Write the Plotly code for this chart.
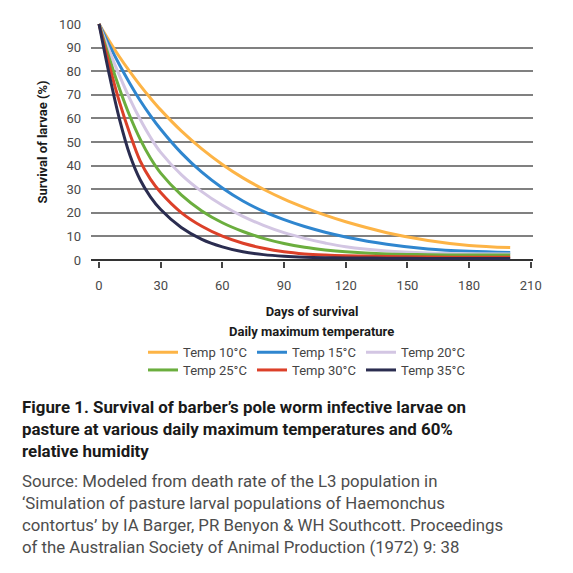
import plotly.graph_objects as go

days = [0, 5, 10, 15, 20, 25, 30, 40, 50, 60, 70, 80, 90, 100, 110, 120, 140, 160, 180, 200]

temp_10 = [100, 92.8, 86, 79.8, 74, 68.6, 63.6, 54.7, 47.1, 40.5, 34.8, 30, 25.8, 22.2, 19.0, 16.2, 11.6, 8.3, 6.2, 5.3]
temp_15 = [100, 91, 82.6, 74.8, 67.6, 61.2, 55.4, 45.4, 37.2, 30.5, 25, 20.6, 17.1, 14.2, 11.8, 9.8, 6.7, 4.7, 3.7, 3.2]
temp_20 = [100, 88.6, 78, 68.3, 59.6, 52, 45.6, 36.2, 29, 23.2, 18.5, 14.7, 11.6, 9.2, 7.2, 5.6, 3.8, 3.0, 2.7, 2.6]
temp_25 = [100, 85.5, 72.5, 61, 51.2, 43.2, 36.8, 27.6, 20.8, 15.8, 12.1, 9.2, 7.0, 5.4, 4.3, 3.5, 2.6, 2.3, 2.1, 2.1]
temp_30 = [100, 82.5, 66.8, 53.5, 42, 34.3, 28.6, 20.1, 14.3, 10.1, 7.1, 5.0, 3.5, 2.6, 2.1, 1.8, 1.5, 1.3, 1.2, 1.2]
temp_35 = [100, 78.5, 59.5, 44.5, 34, 26.8, 21.4, 13.8, 8.8, 5.6, 3.5, 2.3, 1.6, 1.2, 1.0, 0.9, 0.8, 0.7, 0.7, 0.7]

series_names = ["Temp 10°C", "Temp 15°C", "Temp 20°C", "Temp 25°C", "Temp 30°C", "Temp 35°C"]
series_values = [temp_10, temp_15, temp_20, temp_25, temp_30, temp_35]
series_colors = ["#FDB446", "#2F86CF", "#D3C6E3", "#6BAE3E", "#DC4029", "#2B2D50"]

x_ticks = [0, 30, 60, 90, 120, 150, 180, 210]
y_ticks = [0, 10, 20, 30, 40, 50, 60, 70, 80, 90, 100]

FONT = "Roboto"
OFF = 8            # page body margin
W = H = 573 - OFF
# plot area edges in window pixels
PL, PR, PT, PB = 91, 533, 17, 260.7
ML, MR, MT, MB = PL - OFF, W - (PR - OFF), PT - OFF, H - (PB - OFF)

fig = go.Figure()
for i, (name, vals, col) in enumerate(zip(series_names, series_values, series_colors)):
    fig.add_trace(go.Scatter(
        x=days, y=vals, mode="lines", name=name,
        line=dict(color=col, width=3, shape="spline", smoothing=1.0),
        legend="legend" if i < 3 else "legend2",
    ))

def py(p):
    return (PB - p) / (PB - PT)

def px_x(p):
    return (p - PL) / (PR - PL)

def cx(p):
    return (p - OFF) / W

def cy(p):
    return 1 - (p - OFF) / H

legend_common = dict(
    orientation="h", xref="container", yref="container",
    xanchor="left", yanchor="middle",
    font=dict(family=FONT, size=13, color="#444444"),
    entrywidth=64, itemwidth=30, tracegroupgap=0,
    bgcolor="rgba(0,0,0,0)", itemclick=False,
)

fig.update_layout(
    width=W, height=H,
    margin=dict(l=ML, r=MR, t=MT, b=MB),
    paper_bgcolor="white", plot_bgcolor="white",
    font=dict(family=FONT, size=13, color="#444444"),
    xaxis=dict(
        range=[-3.9, 211.1], tickvals=x_ticks, ticktext=[str(v) for v in x_ticks],
        showgrid=False, zeroline=False, showline=False,
        ticks="outside", ticklen=6, tickwidth=1.5, tickcolor="#444444",
        tickfont=dict(family=FONT, size=13, color="#4a4a4a"),
        ticklabelstandoff=6,
        title=dict(text="<b>Days of survival</b>", font=dict(family=FONT, size=13, color="#1a1a1a"), standoff=15),
    ),
    yaxis=dict(
        range=[-0.4, 100.4], tickvals=y_ticks, ticktext=[str(v) for v in y_ticks],
        showgrid=True, gridcolor="#808080", gridwidth=1.5,
        zeroline=True, zerolinecolor="#333333", zerolinewidth=2.2,
        showline=False, ticks="",
        tickfont=dict(family=FONT, size=13, color="#4a4a4a"),
        ticklabelstandoff=9,
        title=dict(text="<b>Survival of larvae (%)</b>", font=dict(family=FONT, size=13, color="#1a1a1a"), standoff=8),
    ),
    legend=dict(x=cx(143), y=cy(352.3), **legend_common),
    legend2=dict(x=cx(143), y=cy(370), **legend_common),
    annotations=[
        dict(text="<b>Daily maximum temperature</b>", xref="paper", yref="paper",
             x=px_x(311), y=py(332.7), xanchor="center", yanchor="middle", showarrow=False,
             font=dict(family=FONT, size=13, color="#1a1a1a")),
        dict(text="<b>Figure 1. Survival of barber’s pole worm infective larvae on<br>"
                  "pasture at various daily maximum temperatures and 60%<br>"
                  "relative humidity</b>",
             xref="paper", yref="paper", x=px_x(20), y=py(433), xanchor="left", yanchor="middle",
             align="left", showarrow=False, font=dict(family=FONT, size=16.9, color="#1a1a1a")),
        dict(text="Source: Modeled from death rate of the L3 population in<br>"
                  "‘Simulation of pasture larval populations of Haemonchus<br>"
                  "contortus’ by IA Barger, PR Benyon &amp; WH Southcott. Proceedings<br>"
                  "of the Australian Society of Animal Production (1972) 9: 38",
             xref="paper", yref="paper", x=px_x(20), y=py(519.5), xanchor="left", yanchor="middle",
             align="left", showarrow=False, font=dict(family=FONT, size=16.8, color="#4d4d4d")),
    ],
)

fig.write_html("out.html")
